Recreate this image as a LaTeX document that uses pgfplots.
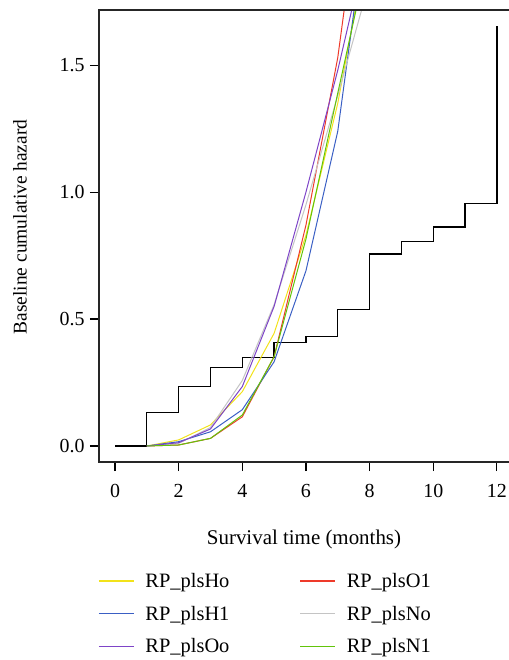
\documentclass[border=0pt]{standalone}
\usepackage{pgfplots}
\pgfplotsset{compat=1.18}
\usepackage{fontspec}
\setmainfont{Liberation Serif}
\definecolor{cYel}{HTML}{F2E21A}
\definecolor{cBlu}{HTML}{3A5FC4}
\definecolor{cPur}{HTML}{7E44C8}
\definecolor{cRed}{HTML}{EE3A2A}
\definecolor{cGry}{HTML}{C4C4C4}
\definecolor{cGrn}{HTML}{62C40A}
\begin{document}
\begin{tikzpicture}
\begin{axis}[
  name=ax,
  scale only axis,
  width=410bp, height=452bp,
  xmin=-0.503, xmax=12.38, ymin=-0.063, ymax=1.717,
  axis line style={draw=none},
  xtick={0,2,4,6,8,10,12},
  ytick={0,0.5,1,1.5},
  tick align=outside, tick pos=left,
  major tick length=9bp,
  every tick/.style={line width=1.1bp, black},
  /pgf/number format/assume math mode=true,
  yticklabel style={/pgf/number format/fixed, /pgf/number format/precision=1, /pgf/number format/fixed zerofill, font=\fontsize{20}{23}\selectfont},
  xticklabel style={font=\fontsize{20}{23}\selectfont},
  xticklabel shift=10bp,
  yticklabel shift=2bp,
  ylabel style={font=\fontsize{19.5}{23}\selectfont},
  xlabel style={font=\fontsize{21}{24}\selectfont},
  xlabel={Survival time (months)},
  ylabel={Baseline cumulative hazard},
  xlabel shift=25bp,
  ylabel shift=26bp,
  every axis y label/.append style={at={(ticklabel cs:0.52)}},
  legend columns=2,
  legend image code/.code={\draw[#1, line width=1.3bp] (0bp,0bp) -- (35bp,0bp);},
  legend cell align=left,
  legend style={at={(0,0)}, anchor=north west, yshift=-107bp, xshift=-4bp, draw=none,
    font=\fontsize{20.5}{24}\selectfont, row sep=13bp,
    /tikz/every odd column/.append style={column sep=9bp},
    /tikz/every even column/.append style={column sep=68bp}},
]
\addplot[black, line width=1.3bp, const plot, forget plot] coordinates {
(0,0) (1,0.131) (2,0.233) (3,0.308) (4,0.348) (5,0.407) (6,0.430) (7,0.538) (8,0.756) (9,0.804) (10,0.862) (11,0.955) (12,1.654)};
\addplot[cYel, line width=1bp] coordinates {(1,0) (2,0.024) (3,0.083) (4,0.214) (5,0.444) (6,0.83) (7,1.35) (8,2.02)};
\addlegendentry{RP\_plsHo}
\addplot[cRed, line width=1bp] coordinates {(1,0) (2,0.004) (3,0.03) (4,0.115) (5,0.352) (6,0.87) (7,1.53) (8,2.46)};
\addlegendentry{RP\_plsO1}
\addplot[cBlu, line width=1bp] coordinates {(1,0) (2,0.017) (3,0.056) (4,0.143) (5,0.332) (6,0.69) (7,1.24) (8,2.17)};
\addlegendentry{RP\_plsH1}
\addplot[cGry, line width=1bp] coordinates {(1,0) (2,0.01) (3,0.073) (4,0.258) (5,0.557) (6,0.95) (7,1.38) (8,1.83)};
\addlegendentry{RP\_plsNo}
\addplot[cPur, line width=1bp] coordinates {(1,0) (2,0.013) (3,0.067) (4,0.234) (5,0.55) (6,1.0) (7,1.48) (8,2.02)};
\addlegendentry{RP\_plsOo}
\addplot[cGrn, line width=1bp] coordinates {(1,0) (2,0.004) (3,0.03) (4,0.122) (5,0.352) (6,0.815) (7,1.39) (8,1.96)};
\addlegendentry{RP\_plsN1}
\end{axis}
\draw[line width=1.2bp, black!85] (ax.north east) -- (ax.north west) -- (ax.south west) -- (ax.south east);
\pgfresetboundingbox
\useasboundingbox ([xshift=-99bp,yshift=-198bp]ax.south west) rectangle ([yshift=10bp]ax.north east);
\end{tikzpicture}
\end{document}
